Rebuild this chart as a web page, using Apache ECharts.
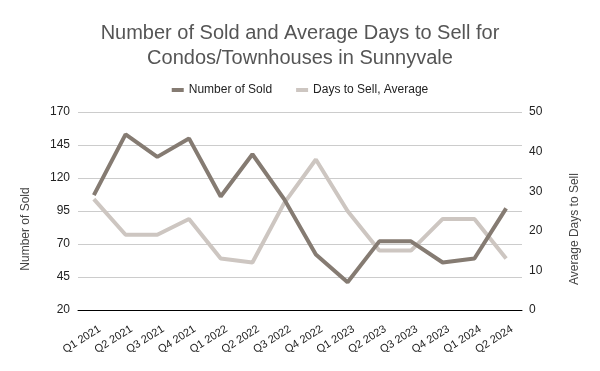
<!DOCTYPE html>
<html>
<head>
<meta charset="utf-8">
<script src="https://cdn.jsdelivr.net/npm/echarts@6/dist/echarts.min.js"></script>
<style>html,body{margin:0;padding:0;background:#fff}#c{width:600px;height:371px}</style>
</head>
<body>
<div id="c"></div>
<script>
const categories = ["Q1 2021","Q2 2021","Q3 2021","Q4 2021","Q1 2022","Q2 2022","Q3 2022","Q4 2022","Q1 2023","Q2 2023","Q3 2023","Q4 2023","Q1 2024","Q2 2024"];
const numberSold = [107,153,136,150,106,138,104,62,41,72,72,56,59,97];
const daysToSell = [28,19,19,23,13,12,27,38,25,15,15,23,23,13];
const titleText = "Number of Sold and Average Days to Sell for\nCondos/Townhouses in Sunnyvale";

const font = "Liberation Sans, Arial, sans-serif";
const chart = echarts.init(document.getElementById('c'), null, {renderer:'canvas'});
chart.setOption({
  animation:false,
  textStyle:{fontFamily:font},
  title:{text:titleText,left:'center',top:16,textStyle:{fontFamily:font,fontSize:20,fontWeight:'normal',color:'#555555',lineHeight:25}},
  legend:{top:79,left:'center',itemWidth:12,itemHeight:4,itemGap:24,icon:'rect',
    textStyle:{fontFamily:font,fontSize:12,color:'#222'},
    data:['Number of Sold','Days to Sell, Average']},
  grid:{left:78,right:78,top:112,bottom:61},
  xAxis:[{type:'category',data:categories,boundaryGap:true,
    axisLine:{lineStyle:{color:'#000',width:1}},
    axisTick:{alignWithLabel:true,length:6,lineStyle:{color:'#000'}},
    axisLabel:{rotate:32,fontSize:11,color:'#222',margin:22,fontFamily:font,interval:0,padding:[0,-7,0,0]}},
   {type:'category',data:categories,boundaryGap:true,position:'bottom',
    axisLine:{show:false},
    axisTick:{inside:true,alignWithLabel:true,length:6,lineStyle:{color:'#000'}},
    axisLabel:{show:false}}],
  yAxis:[{type:'value',min:20,max:170,interval:25,name:'Number of Sold',nameLocation:'middle',nameGap:46,
    nameTextStyle:{fontSize:12,color:'#444',fontFamily:font,padding:[0,36,0,0]},
    axisLine:{show:false},axisTick:{show:false},
    axisLabel:{fontSize:12,color:'#222',margin:8},
    splitLine:{lineStyle:{color:'#cccccc'}}},
   {type:'value',min:0,max:50,interval:10,name:'Average Days to Sell',nameLocation:'middle',nameGap:47,
    nameTextStyle:{fontSize:12,color:'#444',fontFamily:font,padding:[0,36,0,0]},
    axisLine:{show:false},axisTick:{show:false},
    axisLabel:{fontSize:12,color:'#222',margin:7},
    splitLine:{show:false}}],
  series:[
    {name:'Number of Sold',type:'line',data:numberSold,yAxisIndex:0,xAxisIndex:0,showSymbol:false,
      itemStyle:{color:'#857b72'},lineStyle:{width:4,color:'#857b72'},z:3},
    {name:'Days to Sell, Average',type:'line',data:daysToSell,yAxisIndex:1,xAxisIndex:0,showSymbol:false,
      itemStyle:{color:'#cdc6c1'},lineStyle:{width:4,color:'#cdc6c1'},z:2}
  ]
});
</script>
</body>
</html>
